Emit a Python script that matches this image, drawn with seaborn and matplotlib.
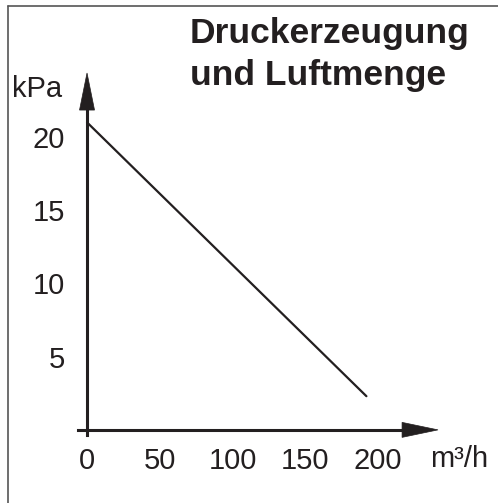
import matplotlib
matplotlib.use("Agg")
import matplotlib.pyplot as plt
import seaborn as sns
import pandas as pd
from matplotlib.patches import Polygon
from matplotlib.lines import Line2D

# data
flow = [0, 192]          # m3/h
pressure = [21.0, 2.3]   # kPa
xticks = [0, 50, 100, 150, 200]
yticks = [5, 10, 15, 20]
title = "Druckerzeugung\nund Luftmenge"
ylabel = "kPa"
xlabel = "m³/h"

sns.set_theme(style="white")
plt.rcParams['font.family'] = ['Liberation Sans', 'DejaVu Sans']
INK = "#231f20"

W, H = 498, 503
fig = plt.figure(figsize=(W / 100, H / 100), dpi=100)

# axes placement in pixels
xmin, xmax = -6.2, 241.2
ymin, ymax = -0.35, 24.37
left_px, right_px = 78, 438
bot_px, top_px = 435, 73
ax = fig.add_axes([left_px / W, 1 - bot_px / H, (right_px - left_px) / W, (bot_px - top_px) / H])
ax.set_xlim(xmin, xmax)
ax.set_ylim(ymin, ymax)
ax.patch.set_alpha(0)

df = pd.DataFrame({"flow": flow, "pressure": pressure})
sns.lineplot(data=df, x="flow", y="pressure", ax=ax, color=INK, linewidth=1.6)
ax.set_xlabel("")
ax.set_ylabel("")

for s in ["top", "right"]:
    ax.spines[s].set_visible(False)
ax.spines["bottom"].set_position(("data", 0))
ax.spines["left"].set_position(("data", 0))
ax.spines["bottom"].set_bounds(xmin, 218)
ax.spines["left"].set_bounds(ymin, 22.2)
for s in ["bottom", "left"]:
    ax.spines[s].set_color(INK)
    ax.spines[s].set_linewidth(2.2)

ax.set_xticks(xticks)
ax.set_yticks(yticks)
ax.set_xticklabels([str(v) for v in xticks])
ax.set_yticklabels([str(v) for v in yticks])
ax.tick_params(axis="both", direction="inout", length=10, width=1.5, color=INK,
               labelsize=21, labelcolor=INK)
ax.tick_params(axis="x", pad=7)
ax.tick_params(axis="y", pad=11)

# arrowheads (axis decorations)
xpx = (xmax - xmin) / (right_px - left_px)  # data units per px in x
ypx = (ymax - ymin) / (bot_px - top_px)
ax.add_patch(Polygon([(216.5, -7.5 * ypx), (xmax, 0), (216.5, 7.5 * ypx)],
                     closed=True, facecolor=INK, edgecolor=INK, lw=0.5, clip_on=False))
ax.add_patch(Polygon([(-7.5 * xpx, 21.84), (0, ymax), (7.5 * xpx, 21.84)],
                     closed=True, facecolor=INK, edgecolor=INK, lw=0.5, clip_on=False))

# labels
fig.text(12 / W, 1 - 97 / H, ylabel, fontsize=21, color=INK, ha="left", va="baseline")
fig.text(430 / W, 1 - 467 / H, xlabel, fontsize=21, color=INK, ha="left", va="baseline")
lines = title.split("\n")
fig.text(190 / W, 1 - 43 / H, lines[0], fontsize=25.5, fontweight="bold", color=INK,
         ha="left", va="baseline")
fig.text(190 / W, 1 - 85 / H, lines[1], fontsize=25.5, fontweight="bold", color=INK,
         ha="left", va="baseline")

# frame (top and left visible)
fig.add_artist(Line2D([7.5 / W, 7.5 / W], [0, 1 - 5.5 / H], transform=fig.transFigure,
                      color="#555555", lw=1.2))
fig.add_artist(Line2D([7.5 / W, 1], [1 - 5.5 / H, 1 - 5.5 / H], transform=fig.transFigure,
                      color="#555555", lw=1.2))

fig.savefig("out.png", dpi=100)
